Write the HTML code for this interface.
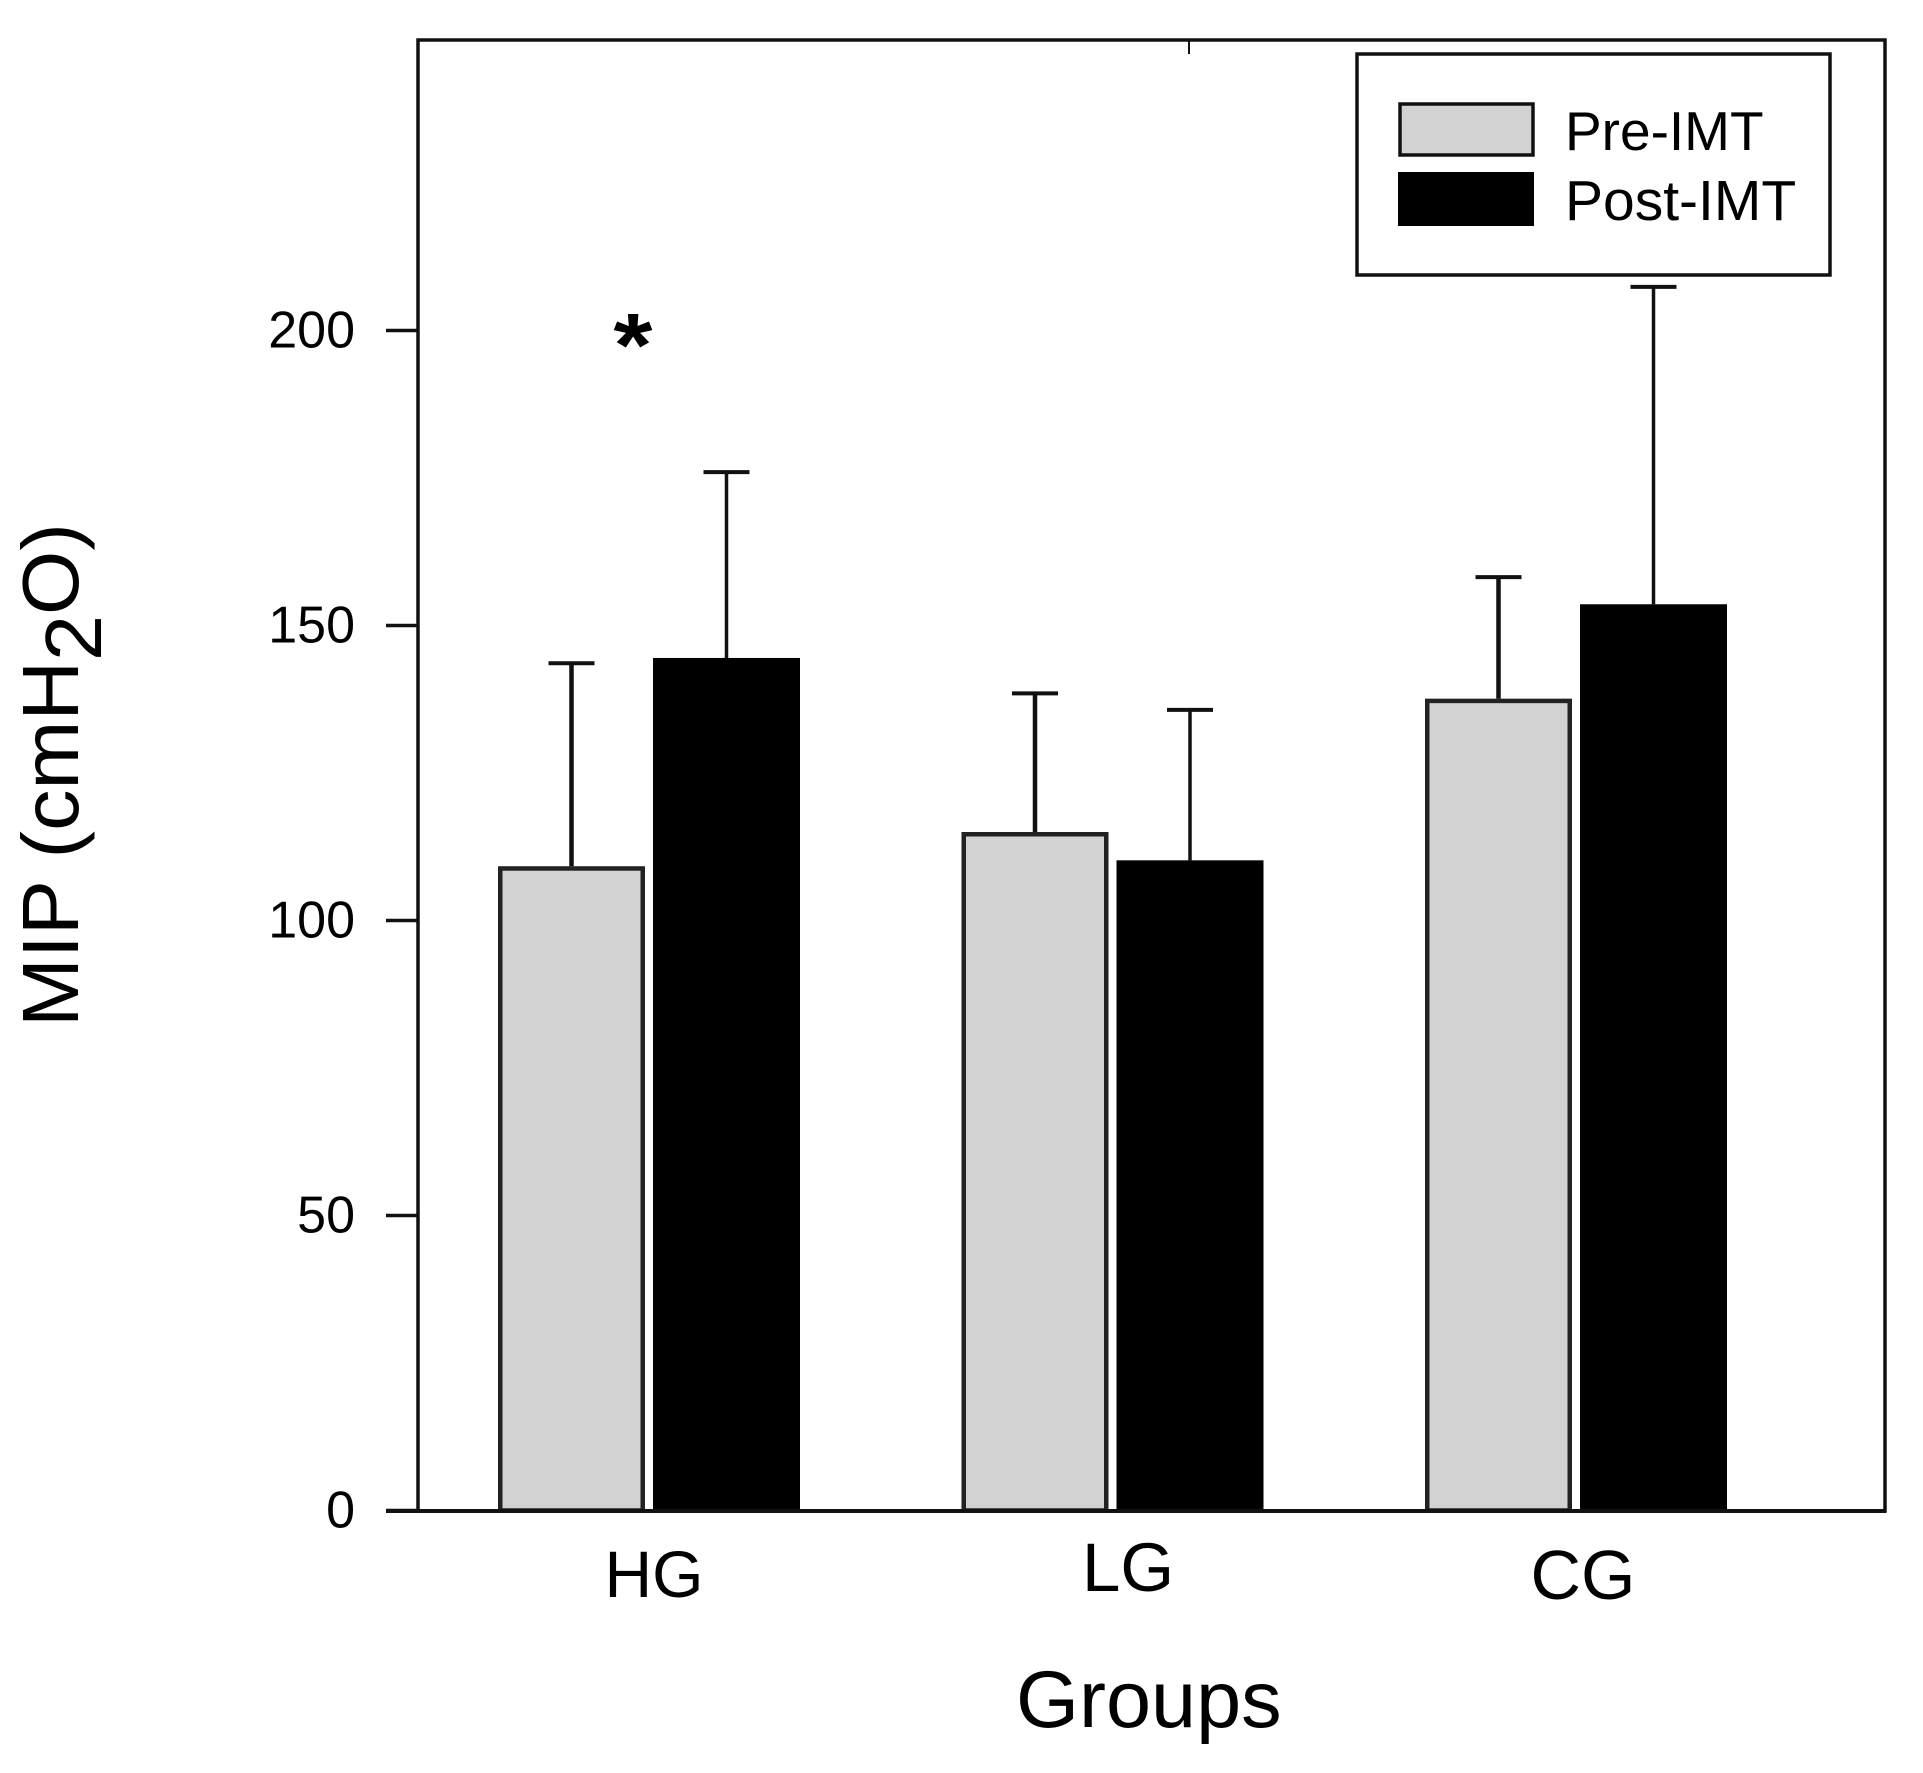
<!DOCTYPE html>
<html lang="en">
<head>
<meta charset="utf-8">
<title>MIP by group, Pre-IMT and Post-IMT</title>
<style>
html,body{margin:0;padding:0;background:#fff;}
svg{display:block;}
text{font-family:"Liberation Sans",Arial,sans-serif;fill:#000;}
</style>
</head>
<body>
<svg id="chart" xmlns="http://www.w3.org/2000/svg" width="1923" height="1773" viewBox="0 0 1923 1773">
  <rect x="0" y="0" width="1923" height="1773" fill="#fff"/>
  <g id="bars"></g>
  <g id="axes">
    <rect x="418" y="40" width="1467" height="1471" fill="none" stroke="#111" stroke-width="3.5"/>
    <line x1="1189" y1="40" x2="1189" y2="54" stroke="#111" stroke-width="2"/>
    <line x1="386" y1="1511" x2="1886" y2="1511" stroke="#111" stroke-width="4"/>
  </g>
  <text transform="translate(78,1027) rotate(-90) scale(1.034,1)" font-size="80">MIP (cmH<tspan dy="23">2</tspan><tspan dy="-23">O)</tspan></text>
  <text x="1016" y="1727" font-size="81">Groups</text>
  <text transform="translate(633,376) scale(1,0.9)" font-size="100" font-weight="bold" text-anchor="middle">*</text>
  <g>
    <rect x="1357" y="54" width="473" height="221" fill="#fff" stroke="#111" stroke-width="3.5"/>
    <rect x="1400" y="104" width="133" height="51" fill="#d2d2d2" stroke="#111" stroke-width="3.5"/>
    <rect x="1398" y="172" width="136" height="54" fill="#000"/>
    <text x="1565" y="150" font-size="55">Pre-IMT</text>
    <text x="1565" y="220" font-size="57">Post-IMT</text>
  </g>
</svg>
<script>
const categories = ["HG", "LG", "CG"];
const preValues = [109.2, 115, 137.6];
const postValues = [144.5, 110.2, 153.6];
const preUpper = [143.6, 138.5, 158.2];
const postUpper = [176, 135.7, 207.4];
const yTickValues = [0, 50, 100, 150, 200];

const NS = "http://www.w3.org/2000/svg";
const yZero = 1510.5;
const yPerUnit = 5.9;
const groupStart = 649;
const groupStep = 463.5;
const barWidth = 147;
const barOffset = 77.5;
const capHalf = 23;

function yScale(v) { return yZero - v * yPerUnit; }
function xCenter(i) { return groupStart + groupStep * i; }
function make(tag, attrs, parent) {
  const el = document.createElementNS(NS, tag);
  for (const k in attrs) el.setAttribute(k, attrs[k]);
  parent.appendChild(el);
  return el;
}

const barsLayer = document.getElementById("bars");
const axesLayer = document.getElementById("axes");

function drawSeries(values, uppers, offset, seriesName, fill, stroke, errWidth) {
  values.forEach(function (v, i) {
    const cx = xCenter(i) + offset;
    const catName = categories[i].toLowerCase();
    const topY = yScale(v);
    const upY = yScale(uppers[i]);

    const stem = make("line", {
      x1: cx, x2: cx, y1: upY, y2: topY,
      stroke: "#111", "stroke-width": errWidth
    }, barsLayer);
    
    

    const cap = make("line", {
      x1: cx - capHalf, x2: cx + capHalf, y1: upY, y2: upY,
      stroke: "#111", "stroke-width": 4
    }, barsLayer);
    
    

    const inset = stroke === "none" ? 0 : 2.25;
    const bar = make("rect", {
      x: cx - barWidth / 2 + inset,
      y: topY + inset,
      width: barWidth - inset * 2,
      height: yZero - topY - inset,
      fill: fill,
      stroke: stroke,
      "stroke-width": stroke === "none" ? 0 : 4.5
    }, barsLayer);
    
    
  });
}

drawSeries(preValues, preUpper, -barOffset, "pre-imt", "#d2d2d2", "#222", 4.5);
drawSeries(postValues, postUpper, barOffset, "post-imt", "#000", "none", 3.5);

yTickValues.forEach(function (t) {
  const y = yScale(t);
  const tick = make("line", {
    x1: 386, x2: 418, y1: y, y2: y,
    stroke: "#111", "stroke-width": 3.5
  }, axesLayer);
  
  

  const label = make("text", {
    x: 355, y: y + 17, "font-size": 52, "text-anchor": "end"
  }, axesLayer);
  label.textContent = String(t);
  
  
});

function categoryLabelAttrs(i) {
  const cx = xCenter(i);
  if (i === 0) return { x: cx + 5, y: 1597, "font-size": 66, "text-anchor": "middle" };
  if (i === 1) return { x: cx + 15.5, y: 1591, "font-size": 69, "text-anchor": "middle" };
  return { x: cx + 7, y: 1599, "font-size": 70, "text-anchor": "middle" };
}

categories.forEach(function (c, i) {
  const label = make("text", categoryLabelAttrs(i), axesLayer);
  label.textContent = c;
  
  
});
</script>
</body>
</html>
